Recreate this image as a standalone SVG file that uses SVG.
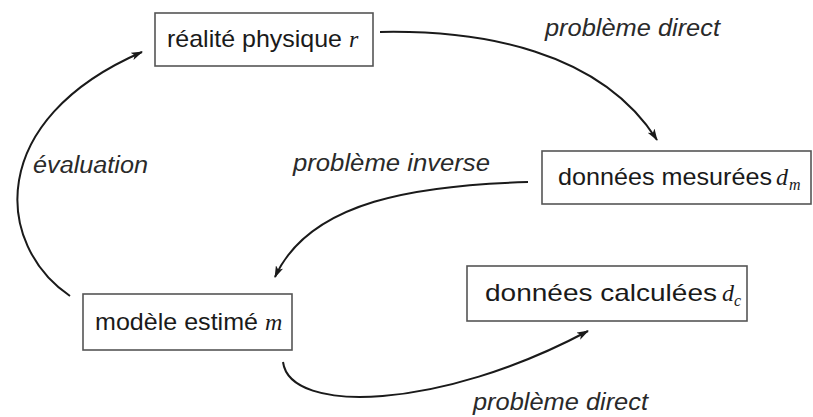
<svg xmlns="http://www.w3.org/2000/svg" width="813" height="417" viewBox="0 0 813 417">
<style>
.box{fill:#fff;stroke:#555;stroke-width:1.6}
.t{font-family:"Liberation Sans",Arial,sans-serif;font-size:24px;fill:#1a1a1a}
.lbl{font-family:"Liberation Sans",Arial,sans-serif;font-size:23px;font-style:italic;fill:#2a2a2a}
.math{font-family:"Liberation Serif","Times New Roman",serif;font-style:italic;font-size:24px;fill:#1a1a1a}
.sub{font-family:"Liberation Serif","Times New Roman",serif;font-style:italic;font-size:16px;fill:#1a1a1a}
.c{fill:none;stroke:#1a1a1a;stroke-width:2}
</style>
<defs>
<marker id="ah" viewBox="0 0 12 8" refX="11" refY="4" markerWidth="12" markerHeight="8" markerUnits="userSpaceOnUse" orient="auto">
<path d="M0,0 L12,4 L0,8 L3,4 Z" fill="#1a1a1a"/>
</marker>
</defs>
<rect width="813" height="417" fill="#fff"/>
<g id="connectors">
<path class="c" d="M380,32 C480,30 600,50 657,140" marker-end="url(#ah)"/>
<path class="c" d="M528,182 C420,185 310,200 275,277" marker-end="url(#ah)"/>
<path class="c" d="M70,296 C-5,245 -15,120 142,52" marker-end="url(#ah)"/>
<path class="c" d="M283,362 C290,415 440,410 588,331" marker-end="url(#ah)"/>
</g>
<g id="labels">
<text class="lbl" x="545" y="36" textLength="175" lengthAdjust="spacingAndGlyphs">problème direct</text>
<text class="lbl" x="293" y="171" textLength="197" lengthAdjust="spacingAndGlyphs">problème inverse</text>
<text class="lbl" x="33" y="173" textLength="115" lengthAdjust="spacingAndGlyphs">évaluation</text>
<text class="lbl" x="473" y="410" textLength="175" lengthAdjust="spacingAndGlyphs">problème direct</text>
</g>
<g id="node-realite">
<rect class="box" x="155" y="13" width="218" height="53"/>
<text class="t" x="167" y="47" textLength="175" lengthAdjust="spacingAndGlyphs">réalité physique</text>
<text class="math" x="349" y="47">r</text>
</g>
<g id="node-mesurees">
<rect class="box" x="542" y="151" width="269" height="53"/>
<text class="t" x="558" y="185" textLength="214" lengthAdjust="spacingAndGlyphs">données mesurées</text>
<text class="math" x="776" y="185">d</text><text class="sub" x="789" y="190">m</text>
</g>
<g id="node-modele">
<rect class="box" x="83" y="294" width="209" height="56"/>
<text class="t" x="95" y="330" textLength="163" lengthAdjust="spacingAndGlyphs">modèle estimé</text>
<text class="math" x="265" y="330">m</text>
</g>
<g id="node-calculees">
<rect class="box" x="467" y="266" width="280" height="55"/>
<text class="t" x="485" y="301" textLength="232" lengthAdjust="spacingAndGlyphs">données calculées</text>
<text class="math" x="722" y="301">d</text><text class="sub" x="734" y="306">c</text>
</g>
</svg>
